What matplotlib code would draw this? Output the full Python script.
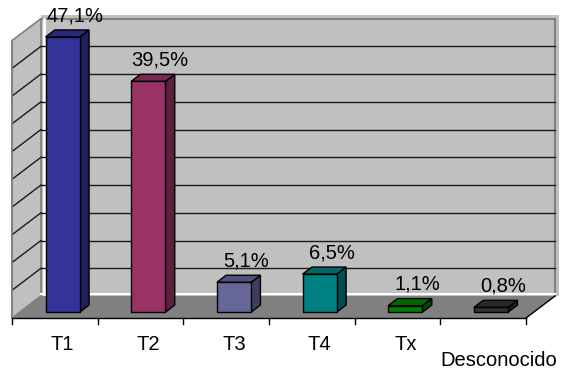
import matplotlib
matplotlib.use("Agg")
import matplotlib.pyplot as plt
from matplotlib.patches import Polygon
import numpy as np

plt.rcParams['font.family'] = ['Liberation Sans', 'DejaVu Sans']

categories = ['T1', 'T2', 'T3', 'T4', 'Tx', 'Desconocido']
values = [47.1, 39.5, 5.1, 6.5, 1.1, 0.8]
labels = ['47,1%', '39,5%', '5,1%', '6,5%', '1,1%', '0,8%']
colors = ['#333399', '#993366', '#666699', '#008080', '#008000', '#333333']

# pseudo-3D layout (x in category units, y in percent)
wall_top = 47.5
n_grid = 10
DX, DY = 0.3385, 3.77          # full depth offset
d0, d1 = 0.27, 0.59            # bar front / back depth
hw = 0.2                       # half bar width
n = len(categories)


def shade(c, f):
    rgb = np.array(matplotlib.colors.to_rgb(c))
    return tuple(rgb * f)


fig = plt.figure(figsize=(5.64, 3.69), dpi=100)
ax = fig.add_axes([0, 0, 1, 1])
ax.set_xlim(-0.14, 6.443)
ax.set_ylim(-8.73, 54.45)
ax.axis('off')

wall = '#C0C0C0'
edge = '#808080'

# back wall slab
ax.add_patch(Polygon([(DX, DY), (n + DX + 0.045, DY), (n + DX + 0.045, DY + wall_top + 0.65),
                      (DX, DY + wall_top + 0.65)], closed=True, fc=wall, ec='none', zorder=1))
ax.plot([DX, n + DX], [DY + wall_top, DY + wall_top], color=edge, lw=1.5, zorder=2)
ax.plot([n + DX, n + DX], [DY, DY + wall_top], color=edge, lw=1.5, zorder=2)

# left wall
ax.add_patch(Polygon([(0, 0), (DX, DY), (DX, DY + wall_top), (0, wall_top)],
                     closed=True, fc=wall, ec=edge, lw=1.2, zorder=2))

# white highlights on the back wall edges
ax.plot([DX + 0.03, DX + 0.03], [DY, DY + wall_top], color='white', lw=2, zorder=2)
ax.plot([DX, n + DX], [DY + 0.4, DY + 0.4], color='white', lw=1.5, zorder=2)

# gridlines
for k in range(1, n_grid):
    g = wall_top * k / n_grid
    ax.plot([DX, n + DX], [DY + g, DY + g], color='#1a1a1a', lw=1.0, zorder=3)
    ax.plot([0, DX], [g, DY + g], color='#1a1a1a', lw=1.0, zorder=3)

# floor
ax.add_patch(Polygon([(0, 0), (n, 0), (n + DX, DY), (DX, DY)], closed=True,
                     fc='#808080', ec='none', zorder=3))
ax.plot([n, n + DX], [0, DY], color='black', lw=1.0, zorder=4)
ax.plot([0, n], [0, 0], color='black', lw=1.0, zorder=4)
ax.plot([0, 0], [0, wall_top], color=edge, lw=1.2, zorder=4)
for i in range(n + 1):
    ax.plot([i, i], [0, -1.05], color='black', lw=1.0, zorder=4)

# bars
fx, fy = d0 * DX, d0 * DY
bx, by = d1 * DX, d1 * DY
for i, (v, c) in enumerate(zip(values, colors)):
    x0 = i + 0.5 - hw + fx
    x1 = i + 0.5 + hw + fx
    front = [(x0, fy), (x1, fy), (x1, fy + v), (x0, fy + v)]
    side = [(x1, fy), (x1 - fx + bx, by), (x1 - fx + bx, by + v), (x1, fy + v)]
    top = [(x0, fy + v), (x1, fy + v), (x1 - fx + bx, by + v), (x0 - fx + bx, by + v)]
    ax.add_patch(Polygon(side, closed=True, fc=shade(c, 0.6), ec='black', lw=1.0, zorder=5))
    ax.add_patch(Polygon(top, closed=True, fc=shade(c, 0.8), ec='black', lw=1.0, zorder=5))
    ax.add_patch(Polygon(front, closed=True, fc=c, ec='black', lw=1.0, zorder=6))
    ax.text(i + 0.53 + bx, by + v + 1.5, labels[i], ha='center', va='baseline',
            fontsize=14.5, zorder=7)

# category labels (last one staggered lower)
for i, name in enumerate(categories):
    if i < n - 1:
        ax.text(i + 0.5 + fx, -5.45, name, ha='center', va='baseline', fontsize=14.5)
    else:
        ax.text(i + 0.59 + fx, -8.2, name, ha='center', va='baseline', fontsize=14.5)

fig.savefig('out.png', dpi=100)
